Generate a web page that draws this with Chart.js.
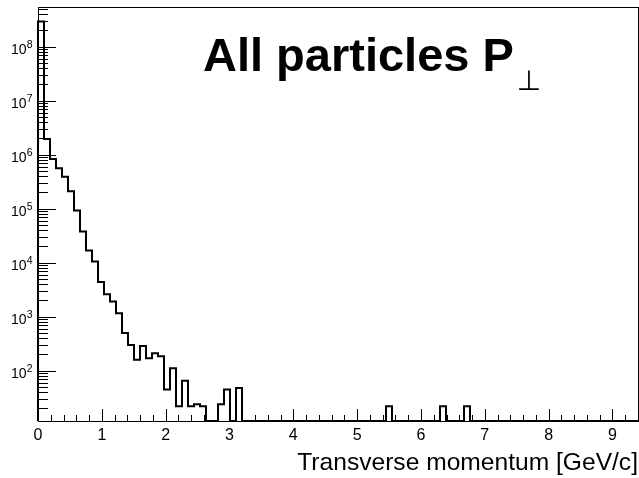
<!DOCTYPE html>
<html><head><meta charset="utf-8">
<script src="https://cdn.jsdelivr.net/npm/chart.js@4/dist/chart.umd.min.js"></script>
<style>html,body{margin:0;padding:0;background:#fff;}#wrap{width:639px;height:478px;}</style>
</head><body><div id="wrap"><canvas id="c" width="639" height="478"></canvas></div>
<script>
// ---- data ----
const titleText = "All particles P";
const titleSub = "\u22A5";
const xAxisTitle = "Transverse momentum [GeV/c]";
const xMin = 0, xMax = 9.4, nBins = 100;
const xTickValues = [0, 1, 2, 3, 4, 5, 6, 7, 8, 9];
const yTickValues = [1e2, 1e3, 1e4, 1e5, 1e6, 1e7, 1e8];
const yMin = 11.7, yMax = 5.4e8;
// entries per bin (bin width = 0.094 GeV/c)
const counts = [
  2.9e8, 1.95e6, 8.3e5, 5.6e5, 3.9e5, 2.1e5, 9.2e4, 3.75e4, 1.67e4, 1.05e4,
  4400, 2600, 1900, 1150, 500, 300, 160, 285, 170, 210,
  185, 45, 111, 22, 65, 22, 24, 22, 0, 0,
  24, 45, 0, 48, 0, 0, 0, 0, 0, 0,
  0, 0, 0, 0, 0, 0, 0, 0, 0, 0,
  0, 0, 0, 0, 0, 0, 0, 0, 22, 0,
  0, 0, 0, 0, 0, 0, 0, 22, 0, 0,
  0, 22, 0, 0, 0, 0, 0, 0, 0, 0,
  0, 0, 0, 0, 0, 0, 0, 0, 0, 0,
  0, 0, 0, 0, 0, 0, 0, 0, 0, 0
];

// ---- build histogram outline (empty bins drawn on the axis floor, like ROOT) ----
const binWidth = (xMax - xMin) / nBins;
const points = [{x: xMin, y: yMin}];
counts.forEach((c, i) => points.push({x: xMin + i * binWidth, y: c > 0 ? c : yMin}));
points.push({x: xMax, y: yMin});

const FONT = '"Liberation Sans", Arial, Helvetica, sans-serif';

const rootDecor = {
  id: 'rootDecor',
  afterDraw(chart) {
    const {ctx, chartArea: a, scales: {x, y}} = chart;
    ctx.save();
    ctx.strokeStyle = '#000';
    ctx.lineWidth = 1;
    ctx.beginPath();
    // x-axis ticks (inside frame)
    const nx = Math.round((xMax - xMin) / 0.2);
    for (let k = 0; k <= nx; k++) {
      const v = xMin + k * 0.2;
      const px = Math.round(x.getPixelForValue(v)) + 0.5;
      const len = (k % 5 === 0) ? 12 : 6;
      ctx.moveTo(px, a.bottom);
      ctx.lineTo(px, a.bottom - len);
    }
    // y-axis log ticks
    const d0 = Math.floor(Math.log10(yMin)), d1 = Math.ceil(Math.log10(yMax));
    for (let d = d0; d <= d1; d++) {
      for (let m = 1; m <= 9; m++) {
        const v = m * Math.pow(10, d);
        if (v < yMin || v > yMax) continue;
        const py = Math.round(y.getPixelForValue(v)) + 0.5;
        const len = m === 1 ? 18 : 10;
        ctx.moveTo(a.left, py);
        ctx.lineTo(a.left + len, py);
      }
    }
    ctx.stroke();
    // frame
    ctx.strokeRect(a.left + 0.5, a.top + 0.5, a.right - a.left, a.bottom - a.top);
    ctx.fillStyle = '#000';
    ctx.textBaseline = 'alphabetic';
    // y tick labels: 10 with superscript exponent
    y.ticks.forEach(t => {
      const py = y.getPixelForValue(t.value);
      const e = String(Math.round(Math.log10(t.value)));
      ctx.font = '10.5px ' + FONT;
      ctx.textAlign = 'right';
      const ew = ctx.measureText(e).width;
      ctx.fillText(e, 32.5, py + 1.8);
      ctx.font = '14px ' + FONT;
      ctx.fillText('10', 32.5 - ew, py + 7.5);
    });
    // title
    ctx.textAlign = 'left';
    ctx.font = 'bold 47px ' + FONT;
    ctx.fillText(titleText, 203, 71);
    const w = ctx.measureText(titleText).width;
    ctx.font = '28px "DejaVu Sans", sans-serif';
    ctx.fillText(titleSub, 203 + w + 3, 90);
    ctx.restore();
  }
};

new Chart(document.getElementById('c'), {
  type: 'scatter',
  data: {
    datasets: [{
      data: points,
      showLine: true,
      stepped: true,
      borderColor: '#000',
      borderWidth: 2,
      pointRadius: 0,
      fill: false,
      clip: 3
    }]
  },
  options: {
    responsive: false,
    animation: false,
    events: [],
    layout: {padding: {top: 7, right: 1, left: 0, bottom: 0}},
    plugins: {legend: {display: false}, tooltip: {enabled: false}, title: {display: false}},
    scales: {
      x: {
        type: 'linear', position: 'bottom', min: xMin, max: xMax,
        grid: {display: false}, border: {display: false},
        afterBuildTicks: s => { s.ticks = xTickValues.map(v => ({value: v})); },
        afterFit: s => { s.height = 57; },
        ticks: {
          autoSkip: false, maxRotation: 0, padding: -3, color: '#000',
          font: {family: FONT, size: 16},
          callback: v => String(v)
        },
        title: {
          display: true, text: xAxisTitle, align: 'end', color: '#000',
          font: {family: FONT, size: 24.6}, padding: {top: 0, bottom: 0.5}
        }
      },
      y: {
        type: 'logarithmic', position: 'left', min: yMin, max: yMax,
        grid: {display: false}, border: {display: false},
        afterBuildTicks: s => { s.ticks = yTickValues.map(v => ({value: v})); },
        afterFit: s => { s.width = 38; },
        ticks: {display: false}
      }
    }
  },
  plugins: [rootDecor]
});
</script>
</body></html>
